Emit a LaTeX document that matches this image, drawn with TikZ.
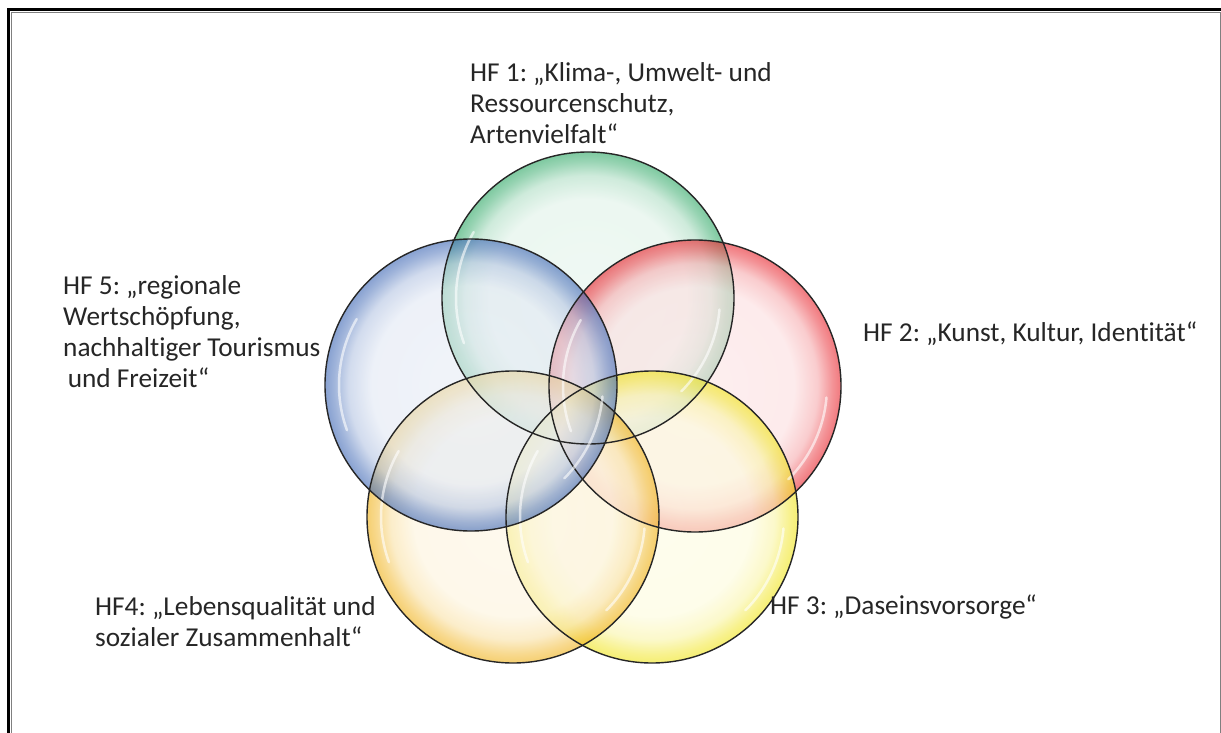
\documentclass[tikz,border=0pt]{standalone}
\usepackage{fontspec}
\setmainfont{Carlito}[Ligatures={NoCommon}]
\usetikzlibrary{positioning}
\frenchspacing

\definecolor{hfgreen}{HTML}{2FA866}
\definecolor{hfred}{HTML}{E8262E}
\definecolor{hfblue}{HTML}{3F68B5}
\definecolor{hforange}{HTML}{F0B21A}
\definecolor{hfyellow}{HTML}{F0E41C}
\definecolor{hftext}{HTML}{262626}

\colorlet{rimcol}{hfgreen}
\pgfdeclareradialshading[rimcol]{glass}{\pgfpoint{0bp}{0bp}}{%
  color(0bp)=(rimcol!12); color(17bp)=(rimcol!15); color(21bp)=(rimcol!38);
  color(23.5bp)=(rimcol!80); color(25bp)=(rimcol); color(50bp)=(rimcol)}

\tikzset{
  bubble/.style={circle, minimum size=292pt, inner sep=0pt, shading=glass,
    shade, fill opacity=0.62},
  rim/.style={draw=black!85, line width=1.4pt},
  shine/.style={white, line width=2.5pt, opacity=0.6, line cap=round},
  hflabel/.style={anchor=base west, align=left, inner sep=0pt, text=hftext,
    font=\fontsize{27.3}{31}\selectfont}
}

\begin{document}
\begin{tikzpicture}[x=1pt,y=-1pt]
\clip (0,0) rectangle (1221,733);
\useasboundingbox (0,0) rectangle (1221,733);
% frame
\draw[line width=3.5pt] (8.5,9.5) rectangle (1260,760);
\draw[black!50, line width=1.2pt] (11.6,12.6) rectangle (1220.4,760);

% the five bubbles
\foreach \nm/\cx/\cy/\col in {green/588/298/hfgreen, red/695/386/hfred,
    yellow/652/517/hfyellow, orange/513/517/hforange, blue/471/385/hfblue}{
  \colorlet{rimcol}{\col}
  \node[bubble] (c\nm) at (\cx,\cy) {};
}
% outlines and gloss on top
\foreach \nm in {green,red,yellow,orange,blue}{
  \draw[rim] (c\nm) circle[radius=146pt];
  \draw[shine] (c\nm.center) ++(150:132pt) arc[start angle=150, end angle=200, radius=132pt];
  \draw[shine] (c\nm.center) ++(-45:132pt) arc[start angle=-45, end angle=-5, radius=132pt];
}

% labels (base = last line)
\node[hflabel] (hfone) at (470,143) {HF 1: „Klima-, Umwelt- und\\Ressourcenschutz,\\Artenvielfalt“};
\node[hflabel] (hftwo) at (863,341) {HF 2: „Kunst, Kultur, Identität“};
\node[hflabel] (hfthree) at (770,614) {HF 3: „Daseinsvorsorge“};
\node[hflabel] (hffour) at (95,646) {HF4: „Lebensqualität und\\sozialer Zusammenhalt“};
\node[hflabel] (hffive) at (63,387) {HF 5: „regionale\\Wertschöpfung,\\nachhaltiger Tourismus\\\,und Freizeit“};
\end{tikzpicture}
\end{document}
